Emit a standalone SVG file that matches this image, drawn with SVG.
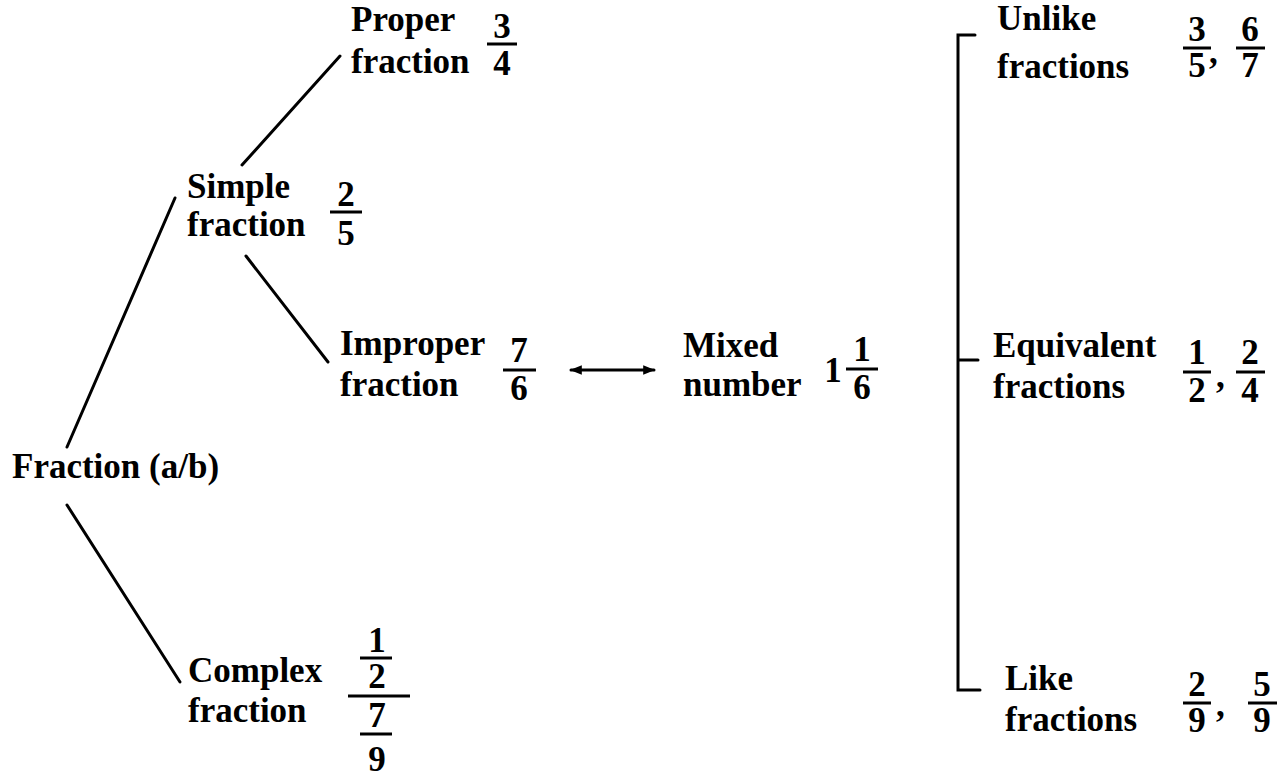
<svg xmlns="http://www.w3.org/2000/svg" width="1279" height="772" viewBox="0 0 1279 772">
<defs>
<style>
text{font-family:"Liberation Serif","Times New Roman",serif;font-weight:bold;font-size:35px;fill:#000}
.d{text-anchor:middle}
.bar{stroke:#000;stroke-width:3}
.ln{stroke:#000;stroke-width:3;fill:none;stroke-linecap:round}
</style>
<marker id="ah" viewBox="0 0 10 10" refX="9" refY="5" markerWidth="4" markerHeight="4" orient="auto-start-reverse" markerUnits="strokeWidth">
<path d="M0,1 L10,5 L0,9 Z" fill="#000"/>
</marker>
</defs>
<rect width="1279" height="772" fill="#fff"/>
<g id="connectors">
<line class="ln" x1="67" y1="447" x2="175" y2="198"/>
<line class="ln" x1="67" y1="505" x2="180" y2="682"/>
<line class="ln" x1="242" y1="165" x2="340" y2="56"/>
<line class="ln" x1="246" y1="256" x2="328" y2="362"/>
<line class="ln" x1="571" y1="370" x2="654" y2="370" marker-start="url(#ah)" marker-end="url(#ah)"/>
<path class="ln" d="M975,35 H958 V690 H980 M958,360 H978" stroke-linecap="butt"/>
</g>
<g id="fraction">
<text x="12" y="478">Fraction (a/b)</text>
</g>
<g id="simple">
<text x="187" y="198">Simple</text>
<text x="187" y="236">fraction</text>
<text class="d" x="346" y="206">2</text>
<line class="bar" x1="330" y1="212" x2="362" y2="212"/>
<text class="d" x="346" y="245">5</text>
</g>
<g id="proper">
<text x="351" y="31">Proper</text>
<text x="351" y="73">fraction</text>
<text class="d" x="502" y="38">3</text>
<line class="bar" x1="487" y1="44" x2="517" y2="44"/>
<text class="d" x="502" y="75">4</text>
</g>
<g id="improper">
<text x="340" y="355">Improper</text>
<text x="340" y="396">fraction</text>
<text class="d" x="519" y="362">7</text>
<line class="bar" x1="503" y1="370" x2="536" y2="370"/>
<text class="d" x="519" y="400">6</text>
</g>
<g id="mixed">
<text x="683" y="357">Mixed</text>
<text x="683" y="396">number</text>
<text class="d" x="833" y="382">1</text>
<text class="d" x="862" y="361">1</text>
<line class="bar" x1="846" y1="369" x2="878" y2="369"/>
<text class="d" x="862" y="399">6</text>
</g>
<g id="complex">
<text x="188" y="682">Complex</text>
<text x="188" y="722">fraction</text>
<text class="d" x="377" y="652">1</text>
<line class="bar" x1="360" y1="658" x2="392" y2="658"/>
<text class="d" x="377" y="688">2</text>
<line class="bar" x1="348" y1="696" x2="410" y2="696"/>
<text class="d" x="377" y="727">7</text>
<line class="bar" x1="360" y1="734" x2="392" y2="734"/>
<text class="d" x="377" y="771">9</text>
</g>
<g id="unlike">
<text x="997" y="30">Unlike</text>
<text x="997" y="78">fractions</text>
<text class="d" x="1197" y="41">3</text>
<line class="bar" x1="1183" y1="48" x2="1211" y2="48"/>
<text class="d" x="1197" y="77">5</text>
<text x="1209" y="63">,</text>
<text class="d" x="1250" y="41">6</text>
<line class="bar" x1="1236" y1="48" x2="1265" y2="48"/>
<text class="d" x="1250" y="77">7</text>
</g>
<g id="equivalent">
<text x="993" y="357">Equivalent</text>
<text x="993" y="398">fractions</text>
<text class="d" x="1197" y="364">1</text>
<line class="bar" x1="1183" y1="372" x2="1211" y2="372"/>
<text class="d" x="1197" y="402">2</text>
<text x="1216" y="387">,</text>
<text class="d" x="1250" y="364">2</text>
<line class="bar" x1="1236" y1="372" x2="1265" y2="372"/>
<text class="d" x="1250" y="402">4</text>
</g>
<g id="like">
<text x="1005" y="690">Like</text>
<text x="1005" y="731">fractions</text>
<text class="d" x="1197" y="696">2</text>
<line class="bar" x1="1183" y1="703" x2="1211" y2="703"/>
<text class="d" x="1197" y="732">9</text>
<text x="1216" y="716">,</text>
<text class="d" x="1262" y="696">5</text>
<line class="bar" x1="1248" y1="703" x2="1277" y2="703"/>
<text class="d" x="1262" y="732">9</text>
</g>
</svg>
